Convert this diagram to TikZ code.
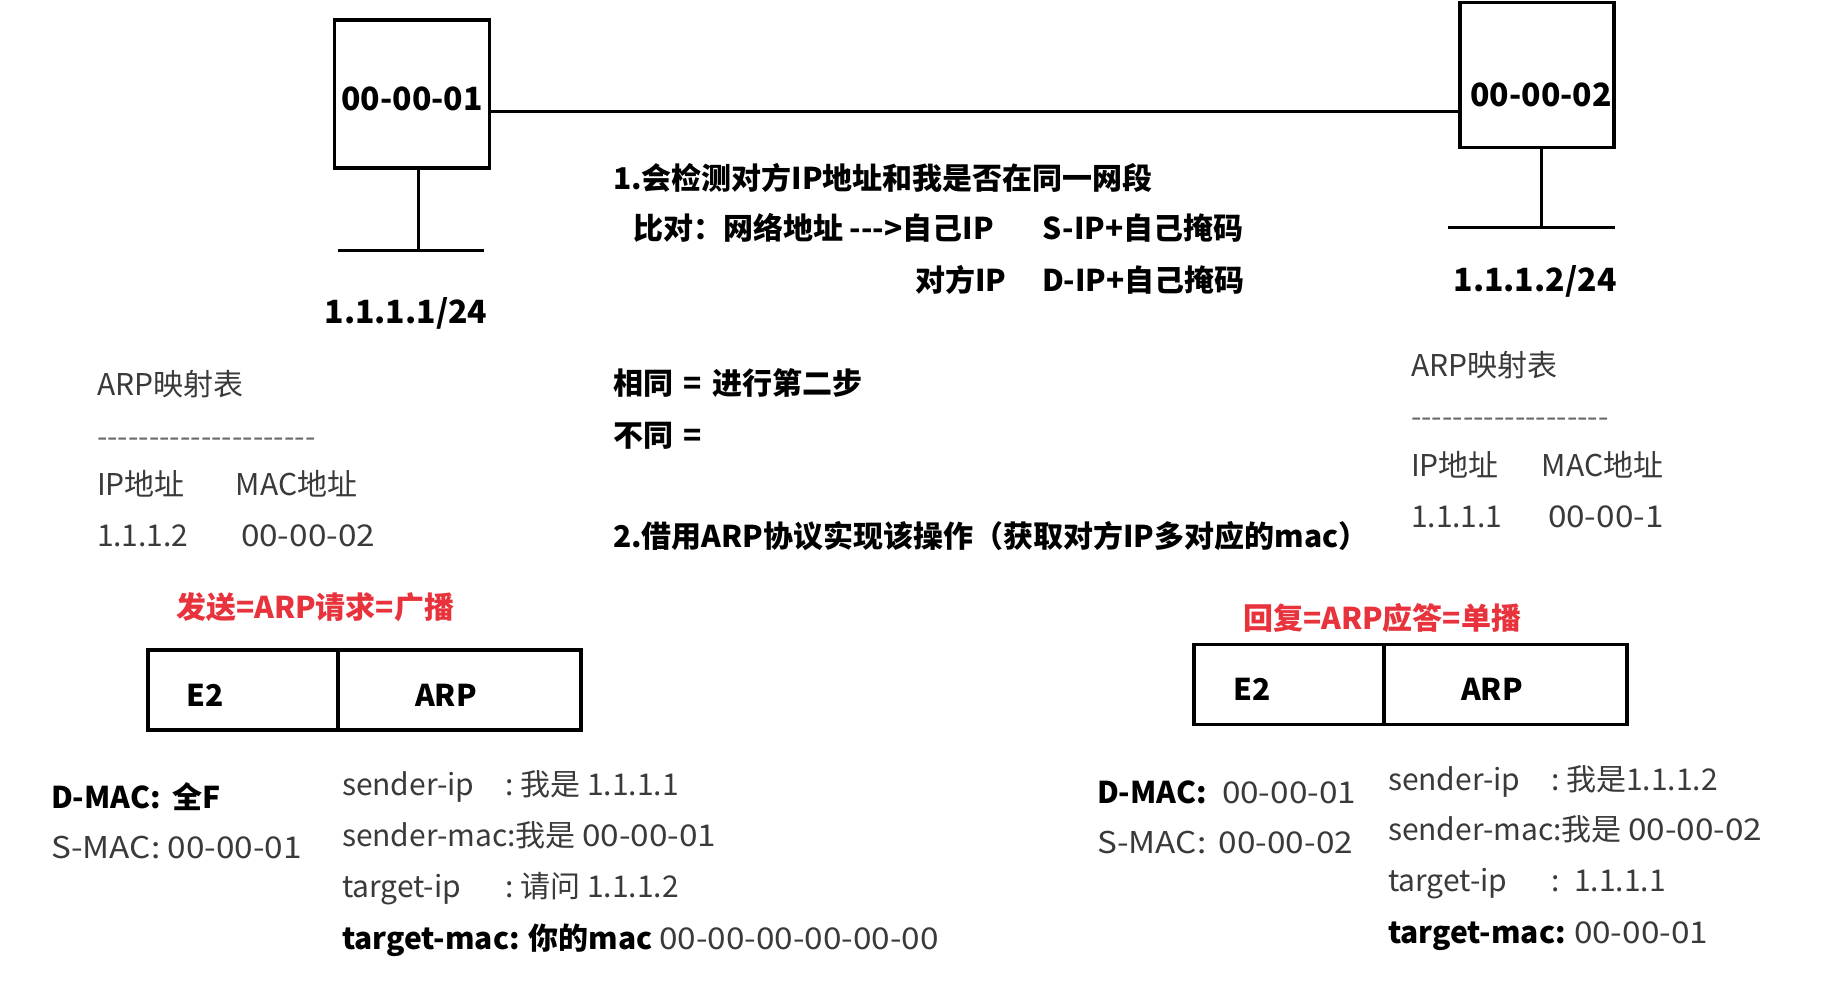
\documentclass[tikz,border=0pt]{standalone}
\usepackage{fontspec}
\setmainfont{Noto Sans CJK SC}[Ligatures=TeXOff]
\newfontfamily\macfont{Noto Sans CJK SC}[Ligatures=TeXOff, FakeStretch=1.11]
\newcommand\mac[1]{{\macfont #1}}
\definecolor{txtgray}{HTML}{3A3A3A}
\definecolor{dashgray}{HTML}{6A6A6A}
\definecolor{redlbl}{HTML}{E8323C}
\begin{document}
\begin{tikzpicture}[x=1pt,y=-1pt,
  every node/.style={inner sep=0pt, outer sep=0pt},
  txt/.style={anchor=west, text=txtgray, font=\fontsize{30}{36}\selectfont, text height=25pt, text depth=3pt},
  btxt/.style={txt, text=black, font=\fontsize{30}{36}\selectfont\bfseries},
  redtxt/.style={txt, text=redlbl, font=\fontsize{30}{36}\selectfont\bfseries},
  big/.style={anchor=center, text=black, font=\fontsize{32}{38}\selectfont\bfseries, text height=26pt, text depth=3pt},
  celltxt/.style={anchor=center, text=black, font=\fontsize{30}{36}\selectfont\bfseries, text height=25pt, text depth=3pt},
  hostbox/.style={draw=black, line width=3.5pt},
  cellbox/.style={draw=black, line width=3.5pt},
  wire/.style={draw=black, line width=3pt}
]
\path[use as bounding box, fill=white] (0,0) rectangle (1847,1007);

% hosts
\node[hostbox, minimum width=155, minimum height=148] (h1) at (412,94) {};
\node[big] (h1l) at (412,99) {00-00-01};
\node[hostbox, minimum width=154, minimum height=145] (h2) at (1537,75) {};
\node[big] (h2l) at (1541,95) {00-00-02};

\coordinate (ly) at (0,111);
\draw[wire] (h1.east |- ly) -- (h2.west |- ly);

% stems and bars
\coordinate (b1) at (418,250);
\coordinate (bl1) at (338,250);
\coordinate (br1) at (484,250);
\draw[wire] (h1.south -| b1) -- (b1);
\draw[wire] (bl1) -- (br1);
\coordinate (b2) at (1541,227);
\coordinate (bl2) at (1448,227);
\coordinate (br2) at (1615,227);
\draw[wire] (h2.south -| b2) -- (b2);
\draw[wire] (bl2) -- (br2);

\node[big] (ip1) at (406,312) {1.1.1.1/24};
\node[big] (ip2) at (1535,280) {1.1.1.2/24};

% centre notes
\node[btxt] (t1) at (613,178) {1.会检测对方IP地址和我是否在同一网段};
\node[btxt] (t2) at (633,228) {\makebox[410pt][l]{比对：网络地址 --->自己IP}S-IP+自己掩码};
\node[btxt] (t3) at (915,280) {\makebox[127pt][l]{对方IP}D-IP+自己掩码};
\node[btxt] (t4) at (613,383) {相同\hspace{4pt} = \hspace{4pt}进行第二步};
\node[btxt] (t5) at (613,435) {不同\hspace{4pt} =};
\node[btxt] (t6) at (613,536) {2.借用ARP协议实现该操作（获取对方IP多对应的mac）};

% left ARP table
\node[txt] (a1) at (97,384) {ARP映射表};
\node[txt, text=dashgray] (a2) at (97,436) {---------------------};
\node[txt] (a3) at (97,484) {\makebox[139pt][l]{IP地址}MAC地址};
\node[txt] (a4) at (97,535) {\makebox[144pt][l]{1.1.1.2}\mac{00-00-02}};

% right ARP table
\node[txt] (c1) at (1411,365) {ARP映射表};
\node[txt, text=dashgray] (c2) at (1411,416) {-------------------};
\node[txt] (c3) at (1411,465) {\makebox[131pt][l]{IP地址}MAC地址};
\node[txt] (c4) at (1411,516) {\makebox[137pt][l]{1.1.1.1}\mac{00-00-1}};

% red labels
\node[redtxt] (r1) at (176,607) {发送=ARP请求=广播};
\node[redtxt] (r2) at (1243,618) {回复=ARP应答=单播};

% frames
\node[cellbox, minimum width=190, minimum height=80] (le2) at (243,690) {};
\node[cellbox, minimum width=243, minimum height=80] (larp) at (459.5,690) {};
\node[celltxt] (le2t) at (205,695) {E2};
\node[celltxt] (larpt) at (446,695) {ARP};
\node[cellbox, minimum width=190, minimum height=80] (re2) at (1289,684.5) {};
\node[cellbox, minimum width=243, minimum height=80] (rarp) at (1505.5,684.5) {};
\node[celltxt] (re2t) at (1252,689) {E2};
\node[celltxt] (rarpt) at (1492,689) {ARP};

% left packet fields
\node[btxt] (ldmac) at (51,797) {D-MAC:\hspace{12pt}全F};
\node[txt] (lsmac) at (51,847) {\mac{S-MAC: 00-00-01}};
\node[txt] (lsip) at (342,784) {\makebox[164pt][l]{sender-ip}:\hspace{6pt}我是 1.1.1.1};
\node[txt] (lsmc) at (342,835) {sender-mac:我是 \mac{00-00-01}};
\node[txt] (ltip) at (342,886) {\makebox[164pt][l]{target-ip}:\hspace{6pt}请问 1.1.1.2};
\node[txt] (ltmc) at (342,938) {{\bfseries\color{black}target-mac: 你的mac} \mac{00-00-00-00-00-00}};

% right packet fields
\node[txt] (rdmac) at (1097,792) {\makebox[125pt][l]{\bfseries\color{black}D-MAC:}\mac{00-00-01}};
\node[txt] (rsmac) at (1097,842) {\makebox[122pt][l]{\mac{S-MAC:}}\mac{00-00-02}};
\node[txt] (rsip) at (1388,779) {\makebox[164pt][l]{sender-ip}:\hspace{6pt}我是1.1.1.2};
\node[txt] (rsmc) at (1388,829) {sender-mac:我是 \mac{00-00-02}};
\node[txt] (rtip) at (1388,880) {\makebox[164pt][l]{target-ip}:\hspace{14pt}1.1.1.1};
\node[txt] (rtmc) at (1388,932) {\makebox[186pt][l]{\bfseries\color{black}target-mac:}\mac{00-00-01}};
\end{tikzpicture}
\end{document}
